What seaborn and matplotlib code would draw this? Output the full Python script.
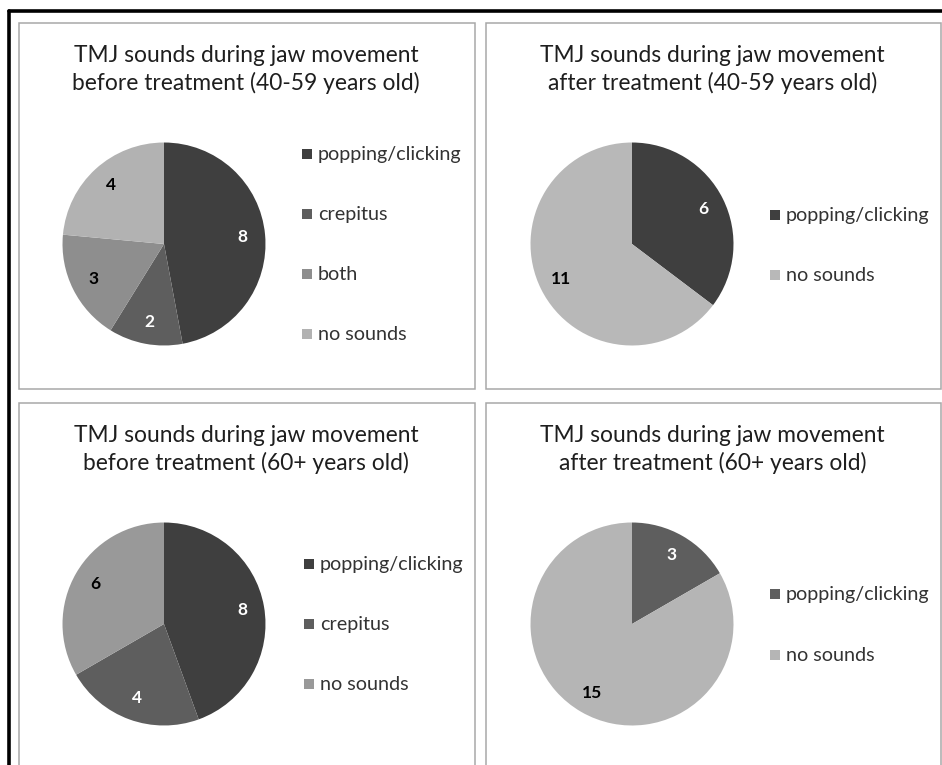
import matplotlib
matplotlib.use("Agg")
import matplotlib.pyplot as plt
from matplotlib.patches import Rectangle
from matplotlib.lines import Line2D
import seaborn as sns

# ---- data -------------------------------------------------------------
titles = [
    "TMJ sounds during jaw movement\nbefore treatment (40-59 years old)",
    "TMJ sounds during jaw movement\nafter treatment (40-59 years old)",
    "TMJ sounds during jaw movement\nbefore treatment (60+ years old)",
    "TMJ sounds during jaw movement\nafter treatment (60+ years old)",
]

before_40_labels = ["popping/clicking", "crepitus", "both", "no sounds"]
before_40_counts = [8, 2, 3, 4]

after_40_labels = ["popping/clicking", "no sounds"]
after_40_counts = [6, 11]

before_60_labels = ["popping/clicking", "crepitus", "no sounds"]
before_60_counts = [8, 4, 6]

after_60_labels = ["popping/clicking", "no sounds"]
after_60_counts = [3, 15]

# ---- style ------------------------------------------------------------
sns.set_theme(style="white")
plt.rcParams["font.family"] = ["Lato", "DejaVu Sans"]

colors_before_40 = sns.color_palette(["#3f3f3f", "#5e5e5e", "#8e8e8e", "#b2b2b2"])
colors_after_40 = sns.color_palette(["#3f3f3f", "#b8b8b8"])
colors_before_60 = sns.color_palette(["#3f3f3f", "#5e5e5e", "#999999"])
colors_after_60 = sns.color_palette(["#5e5e5e", "#b5b5b5"])

W, H = 942, 765
fig = plt.figure(figsize=(W / 100, H / 100), dpi=100)
fig.patch.set_facecolor("white")


def fx(x):
    return x / W


def fy(y):
    return 1 - y / H


# outer frame (left and top edges visible inside the canvas)
fig.add_artist(Line2D([fx(9), fx(W + 5)], [fy(10.5), fy(10.5)],
                      color="black", lw=2.6, transform=fig.transFigure))
fig.add_artist(Line2D([fx(9), fx(9)], [fy(10.5), fy(H + 5)],
                      color="black", lw=2.6, transform=fig.transFigure))

# panel geometry in pixels: (left, top, right, bottom)
panels = [
    (19, 23, 475, 389),
    (486, 23, 941, 389),
    (19, 403, 475, 780),
    (486, 403, 941, 780),
]
pie_centres = [(164, 244), (632, 244), (164, 624), (632, 624)]
pie_radius = 102
legend_marker_x = [302, 770, 304, 770]
legend_baselines = [
    [160, 220, 280, 340],
    [221, 281],
    [570, 630, 690],
    [600, 661],
]

datasets = [
    (before_40_labels, before_40_counts, colors_before_40),
    (after_40_labels, after_40_counts, colors_after_40),
    (before_60_labels, before_60_counts, colors_before_60),
    (after_60_labels, after_60_counts, colors_after_60),
]

for i, (labels, counts, cols) in enumerate(datasets):
    l, t, r, b = panels[i]
    fig.add_artist(Rectangle((fx(l), fy(b)), fx(r) - fx(l), fy(t) - fy(b),
                             transform=fig.transFigure, fill=False,
                             edgecolor="#a8a8a8", lw=1.1))

    # title, two lines
    cx_panel = (l + r) / 2 - 1
    line1, line2 = titles[i].split("\n")
    fig.text(fx(cx_panel), fy(t + 39), line1, ha="center", va="baseline",
             fontsize=16.4, color="#1e1e1e")
    fig.text(fx(cx_panel), fy(t + 67), line2, ha="center", va="baseline",
             fontsize=16.4, color="#1e1e1e")

    # pie
    cx, cy = pie_centres[i]
    ax = fig.add_axes([fx(cx - pie_radius), fy(cy + pie_radius),
                       2 * pie_radius / W, 2 * pie_radius / H])
    total = sum(counts)
    wedges, _, autotexts = ax.pie(
        counts, colors=cols, startangle=90, counterclock=False,
        autopct=lambda p, tot=total: f"{round(p * tot / 100)}",
        pctdistance=0.78, wedgeprops=dict(linewidth=0),
        textprops=dict(fontsize=12.5, fontweight="bold"),
    )
    for w, txt in zip(wedges, autotexts):
        rgb = w.get_facecolor()[:3]
        txt.set_color("white" if sum(rgb) / 3 < 0.45 else "black")
    ax.set_xlim(-1.005, 1.005)
    ax.set_ylim(-1.005, 1.005)
    ax.set_aspect("equal")
    ax.axis("off")

    # legend entries
    mx = legend_marker_x[i]
    for lab, col, base in zip(labels, cols, legend_baselines[i]):
        fig.add_artist(Rectangle((fx(mx), fy(base - 1)), 10 / W, 10 / H,
                                 transform=fig.transFigure, facecolor=col,
                                 edgecolor="none"))
        fig.text(fx(mx + 16), fy(base), lab, ha="left", va="baseline",
                 fontsize=14.2, color="#333333")

fig.savefig("out.png", dpi=100, facecolor="white")
